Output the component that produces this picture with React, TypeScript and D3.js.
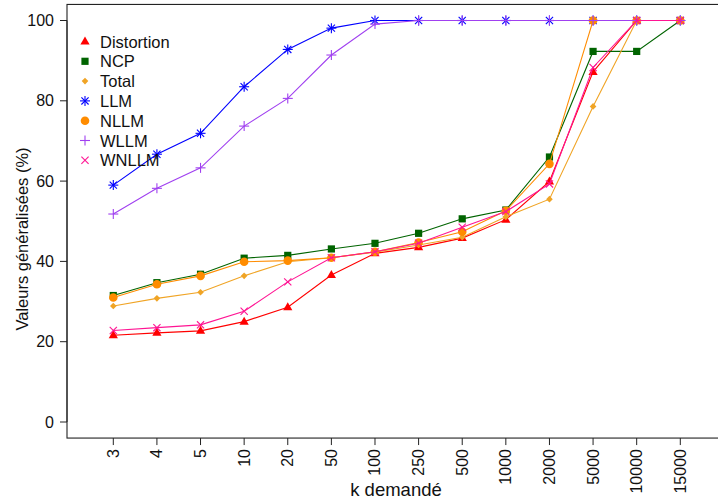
import React from "react";
import * as d3 from "d3";

const kLabels = ["3", "4", "5", "10", "20", "50", "100", "250", "500", "1000", "2000", "5000", "10000", "15000"];
const yTicks = [0, 20, 40, 60, 80, 100];

const distortion = [21.6, 22.2, 22.7, 25.0, 28.6, 36.6, 42.0, 43.5, 45.8, 50.4, 59.9, 87.2, 100, 100];
const ncp = [31.5, 34.7, 36.8, 40.8, 41.5, 43.1, 44.5, 47.0, 50.6, 52.8, 66.0, 92.3, 92.3, 100];
const total = [28.9, 30.8, 32.3, 36.4, 39.9, 40.9, 42.3, 44.1, 46.0, 51.1, 55.5, 78.6, 100, 100];
const llm = [59.0, 66.7, 71.9, 83.5, 92.8, 98.1, 100, 100, 100, 100, 100, 100, 100, 100];
const nllm = [31.0, 34.3, 36.4, 39.9, 40.2, 40.9, 42.4, 44.7, 47.4, 52.6, 64.3, 100, 100, 100];
const wllm = [51.8, 58.2, 63.3, 73.7, 80.6, 91.4, 99.1, 100, 100, 100, 100, 100, 100, 100];
const wnllm = [22.8, 23.5, 24.2, 27.6, 34.9, 40.9, 42.4, 44.5, 48.5, 52.4, 59.3, 88.3, 100, 100];

const seriesNames = ["Distortion", "NCP", "Total", "LLM", "NLLM", "WLLM", "WNLLM"];
const seriesValues = [distortion, ncp, total, llm, nllm, wllm, wnllm];
const seriesColors = ["#FF0000", "#006400", "#F0A425", "#0000FF", "#FF8C00", "#A040F0", "#FF1493"];
const seriesShapes = ["triangle", "square", "diamond", "asterisk", "circle", "plus", "cross"];

const FONT = "'Liberation Sans', Arial, Helvetica, sans-serif";

function Marker({ shape, x, y, color }: { shape: string; x: number; y: number; color: string }) {
  switch (shape) {
    case "triangle":
      return <path d={`M${x},${y - 5} L${x + 4.6},${y + 3} L${x - 4.6},${y + 3} Z`} fill={color} />;
    case "square":
      return <rect x={x - 3.6} y={y - 3.6} width={7.2} height={7.2} fill={color} />;
    case "diamond":
      return <path d={`M${x},${y - 3.3} L${x + 3.3},${y} L${x},${y + 3.3} L${x - 3.3},${y} Z`} fill={color} />;
    case "circle":
      return <circle cx={x} cy={y} r={4.3} fill={color} />;
    case "plus":
      return (
        <g stroke={color} strokeWidth={1.1}>
          <line x1={x - 5} y1={y} x2={x + 5} y2={y} />
          <line x1={x} y1={y - 5} x2={x} y2={y + 5} />
        </g>
      );
    case "cross":
      return (
        <g stroke={color} strokeWidth={1.1}>
          <line x1={x - 3.6} y1={y - 3.6} x2={x + 3.6} y2={y + 3.6} />
          <line x1={x - 3.6} y1={y + 3.6} x2={x + 3.6} y2={y - 3.6} />
        </g>
      );
    case "asterisk":
      return (
        <g stroke={color} strokeWidth={1.1}>
          <line x1={x - 5} y1={y} x2={x + 5} y2={y} />
          <line x1={x} y1={y - 5} x2={x} y2={y + 5} />
          <line x1={x - 3.6} y1={y - 3.6} x2={x + 3.6} y2={y + 3.6} />
          <line x1={x - 3.6} y1={y + 3.6} x2={x + 3.6} y2={y - 3.6} />
        </g>
      );
    default:
      return null;
  }
}

export default function App() {
  const W = 718;
  const H = 501;
  const x = d3.scalePoint<string>().domain(kLabels).range([113.3, 680.3]);
  const y = d3.scaleLinear().domain([0, 100]).range([422, 20.5]);
  const boxLeft = 67;
  const boxTop = y(104);
  const boxBottom = y(-4);
  const boxRight = 722;

  const line = d3
    .line<number>()
    .x((_, i) => x(kLabels[i]) as number)
    .y((d) => y(d));

  return (
    <svg width={W} height={H} style={{ position: "absolute", left: 0, top: 0, background: "#fff" }}>
      <rect x={0} y={0} width={W} height={H} fill="#fff" />
      {/* plot box */}
      <rect x={boxLeft} y={boxTop} width={boxRight - boxLeft} height={boxBottom - boxTop} fill="none" stroke="#222" strokeWidth={1.1} />
      {/* y axis */}
      <line x1={boxLeft} x2={boxLeft} y1={y(0)} y2={y(100)} stroke="#222" />
      {yTicks.map((t) => (
        <g key={t}>
          <line x1={boxLeft - 7} x2={boxLeft} y1={y(t)} y2={y(t)} stroke="#222" />
          <text x={54} y={y(t)} textAnchor="end" dominantBaseline="central" fontFamily={FONT} fontSize={16} fill="#111">
            {t}
          </text>
        </g>
      ))}
      {/* x axis */}
      {kLabels.map((k) => (
        <g key={k}>
          <line x1={x(k)} x2={x(k)} y1={boxBottom} y2={boxBottom + 7} stroke="#222" />
          <text
            transform={`translate(${x(k)},${boxBottom + 11}) rotate(-90)`}
            textAnchor="end"
            dominantBaseline="central"
            fontFamily={FONT}
            fontSize={16}
            fill="#111"
          >
            {k}
          </text>
        </g>
      ))}
      <text x={396} y={496} textAnchor="middle" fontFamily={FONT} fontSize={18.5} fill="#111">
        k demandé
      </text>
      <text transform="translate(28,239) rotate(-90)" textAnchor="middle" fontFamily={FONT} fontSize={16.5} fill="#111">
        Valeurs généralisées (%)
      </text>
      {/* series */}
      {seriesValues.map((vals, si) => (
        <g key={seriesNames[si]}>
          <path d={line(vals) || ""} fill="none" stroke={seriesColors[si]} strokeWidth={1.1} />
          {vals.map((v, i) => (
            <Marker key={i} shape={seriesShapes[si]} x={x(kLabels[i]) as number} y={y(v)} color={seriesColors[si]} />
          ))}
        </g>
      ))}
      {/* legend */}
      {seriesNames.map((n, i) => {
        const ly = 41.5 + i * 19.8;
        return (
          <g key={n}>
            <Marker shape={seriesShapes[i]} x={85} y={ly} color={seriesColors[i]} />
            <text x={100} y={ly} dominantBaseline="central" fontFamily={FONT} fontSize={16.5} fill="#111">
              {n}
            </text>
          </g>
        );
      })}
    </svg>
  );
}
